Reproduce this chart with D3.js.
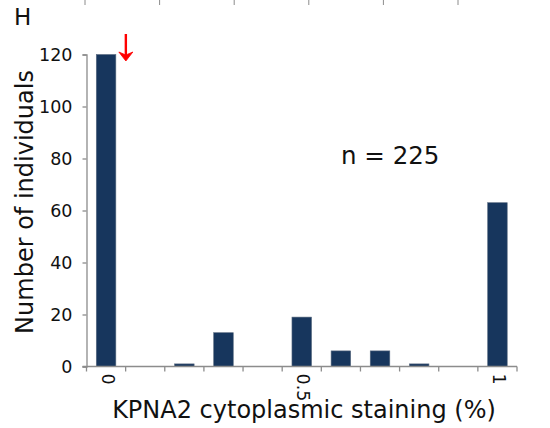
<!DOCTYPE html>
<html>
<head>
<meta charset="utf-8">
<script src="https://cdn.jsdelivr.net/npm/d3@7/dist/d3.min.js"></script>
<style>
  html, body { margin: 0; padding: 0; background: #fff; }
  svg { display: block; }
</style>
</head>
<body>
<svg id="chart" width="550" height="428"></svg>
<script>
// Histogram of KPNA2 cytoplasmic staining fraction
const categories = ["0", "0.1", "0.2", "0.3", "0.4", "0.5", "0.6", "0.7", "0.8", "0.9", "1"];
const counts = [120, 0, 1, 13, 0, 19, 6, 6, 1, 0, 63];
const yTicks = [0, 20, 40, 60, 80, 100, 120];
const shownXLabels = ["0", "0.5", "1"];
const topTicks = [0, 1, 2, 3, 4, 5];

const svg = d3.select("#chart");
const font = "'DejaVu Sans', Verdana, sans-serif";
const axisColor = "#8c8c8c";
const barColor = "#17365d";

const plotLeft = 86.5, plotRight = 517, plotTop = 54.5, plotBottom = 366.5;

const x = d3.scaleBand().domain(categories).range([plotLeft, plotRight]).paddingInner(0.5).paddingOuter(0.25);
const y = d3.scaleLinear().domain([0, 120]).range([plotBottom, plotTop]);

// partial tick row of the panel above
const xTop = d3.scaleLinear().domain([0, 5]).range([85, 458]);
svg.append("g").selectAll("line").data(topTicks).join("line")
  .attr("x1", d => xTop(d)).attr("x2", d => xTop(d))
  .attr("y1", 0).attr("y2", 5)
  .attr("stroke", axisColor).attr("stroke-width", 1);

// panel letter
svg.append("text").attr("x", 14).attr("y", 25)
  .attr("font-family", font).attr("font-size", 23).attr("fill", "#111").text("H");

// bars
svg.append("g").selectAll("rect").data(categories).join("rect")
  .attr("x", d => x(d))
  .attr("y", (d, i) => y(counts[i]))
  .attr("width", x.bandwidth())
  .attr("height", (d, i) => y(0) - y(counts[i]))
  .attr("fill", barColor)
  .attr("stroke", "#5a6b80").attr("stroke-width", 0.6);

// y axis
const yAxis = svg.append("g").attr("transform", `translate(${plotLeft},0)`)
  .call(d3.axisLeft(y).tickValues(yTicks).tickSize(4).tickPadding(10));
yAxis.select(".domain").attr("stroke", axisColor).attr("stroke-width", 1.3);
yAxis.selectAll(".tick line").attr("stroke", axisColor).attr("stroke-width", 1.3);
yAxis.selectAll(".tick text").attr("font-family", font).attr("font-size", 17.5).attr("fill", "#111");

// x axis: boundary ticks between categories
const xb = d3.scaleLinear().domain([0, categories.length]).range([plotLeft, plotRight]);
const bounds = d3.range(categories.length + 1);
const xg = svg.append("g");
xg.append("line").attr("x1", plotLeft - 4).attr("x2", plotRight).attr("y1", plotBottom).attr("y2", plotBottom)
  .attr("stroke", axisColor).attr("stroke-width", 1.3);
xg.selectAll("line.tk").data(bounds).join("line").attr("class", "tk")
  .attr("x1", d => xb(d)).attr("x2", d => xb(d))
  .attr("y1", plotBottom).attr("y2", plotBottom + 5)
  .attr("stroke", axisColor).attr("stroke-width", 1.3);

// rotated category labels
xg.selectAll("text").data(shownXLabels).join("text")
  .attr("transform", d => `translate(${x(d) + x.bandwidth() / 2 - 4.5},${plotBottom + 7}) rotate(90)`)
  .attr("font-family", font).attr("font-size", 17.5).attr("fill", "#111")
  .attr("text-anchor", "start")
  .text(d => d);

// axis titles
svg.append("text")
  .attr("transform", "translate(33,202) rotate(-90)")
  .attr("text-anchor", "middle")
  .attr("font-family", font).attr("font-size", 24).attr("fill", "#111")
  .text("Number of individuals");

svg.append("text")
  .attr("x", 304).attr("y", 418)
  .attr("text-anchor", "middle")
  .attr("font-family", font).attr("font-size", 24).attr("fill", "#111")
  .text("KPNA2 cytoplasmic staining (%)");

// sample size
svg.append("text")
  .attr("x", 341).attr("y", 164)
  .attr("font-family", font).attr("font-size", 24.5).attr("fill", "#111")
  .text("n = 225");

// red arrow marking the zero bin
const ax = x("0") + x.bandwidth() + 10;
const arrow = svg.append("g").attr("fill", "#ff0000").attr("stroke", "#ff0000");
arrow.append("line").attr("x1", ax).attr("x2", ax).attr("y1", 34).attr("y2", 57).attr("stroke-width", 2.4);
arrow.append("path").attr("stroke-width", 0.8)
  .attr("d", `M${ax - 7},52 L${ax},61 L${ax + 7},52 L${ax},55 Z`);
</script>
</body>
</html>
